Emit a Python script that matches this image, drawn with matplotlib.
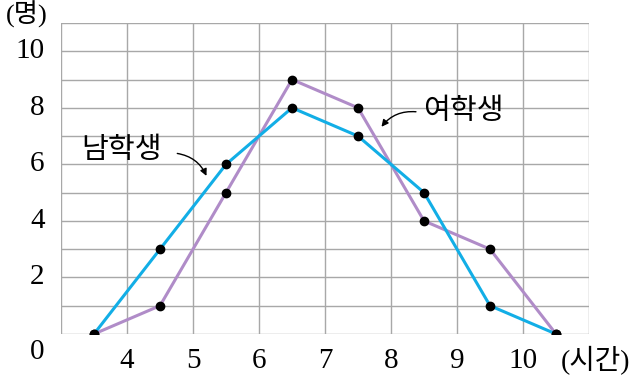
import matplotlib.pyplot as plt

hours = [3.5, 4.5, 5.5, 6.5, 7.5, 8.5, 9.5, 10.5]
boys = [0, 3, 6, 8, 7, 5, 1, 0]
girls = [0, 1, 5, 9, 8, 4, 3, 0]
x_ticks = [4, 5, 6, 7, 8, 9, 10]
y_ticks = [2, 4, 6, 8, 10]

plt.rcParams['font.family'] = ['Liberation Serif', 'Noto Sans CJK KR']
kfont = ['Noto Sans CJK KR', 'DejaVu Sans']

fig = plt.figure(figsize=(6.33, 3.82), dpi=100)
ax = fig.add_axes([0.0964, 0.1257, 0.8341, 0.8141])
ax.set_xlim(3, 11)
ax.set_ylim(0, 11)

for x in range(3, 12):
    ax.axvline(x, color='#a8a8a8', lw=1.0, zorder=1)
for y in range(0, 12):
    ax.axhline(y, color='#a8a8a8', lw=1.0, zorder=1)

ax.plot(hours, girls, color='#b08cc8', lw=2.2, zorder=3)
ax.plot(hours, boys, color='#12aee6', lw=2.2, zorder=3)
ax.plot(hours, girls, 'o', color='black', ms=6, zorder=4)
ax.plot(hours, boys, 'o', color='black', ms=6, zorder=4)

for s in ax.spines.values():
    s.set_visible(False)
ax.set_xticks([])
ax.set_yticks([])

for t in x_ticks:
    ax.text(t, -0.95, str(t), ha='center', va='center', fontsize=21,
            family='Liberation Serif')
for t in y_ticks:
    ax.text(2.75, t, str(t), ha='right', va='center', fontsize=21,
            family='Liberation Serif')
ax.text(2.75, -0.65, '0', ha='right', va='center', fontsize=21,
        family='Liberation Serif')

fig.text(0.042, 0.998, '(명)', ha='center', va='top', fontsize=19,
         family=['Liberation Serif', 'Noto Sans CJK KR'])
ax.text(11.1, -0.95, '(시간)', ha='center', va='center', fontsize=20,
        family=['Liberation Serif', 'Noto Sans CJK KR'])

ax.text(3.92, 6.5, '남학생', ha='center', va='center', fontsize=21, family=kfont)
ax.annotate('', xy=(5.22, 5.5), xytext=(4.72, 6.4),
            arrowprops=dict(arrowstyle='-|>', color='black', lw=1.0,
                            connectionstyle='arc3,rad=-0.3', mutation_scale=10))
ax.text(9.1, 7.9, '여학생', ha='center', va='center', fontsize=21, family=kfont)
ax.annotate('', xy=(7.83, 7.25), xytext=(8.42, 7.85),
            arrowprops=dict(arrowstyle='-|>', color='black', lw=1.0,
                            connectionstyle='arc3,rad=0.3', mutation_scale=10))

fig.savefig('out.png', dpi=100)
